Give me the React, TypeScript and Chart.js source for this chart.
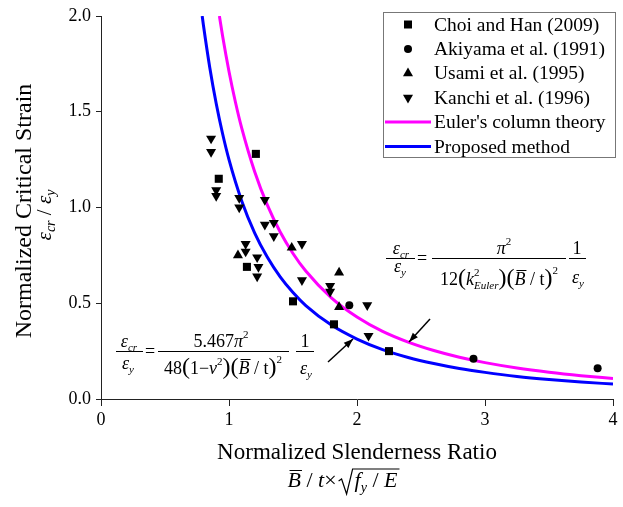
import React, { useEffect, useRef } from 'react';
import { Chart, registerables } from 'chart.js';
Chart.register(...registerables);

// ---- data ----
const choiX = [0.92, 1.21, 1.14, 1.50, 1.82, 2.25];
const choiY = [1.15, 1.28, 0.69, 0.51, 0.39, 0.25];
const akiyamaX = [1.94, 2.91, 3.88];
const akiyamaY = [0.49, 0.21, 0.16];
const usamiX = [1.07, 1.49, 1.86, 1.86];
const usamiY = [0.75, 0.79, 0.66, 0.48];
const kanchiX = [0.86, 0.86, 0.90, 0.90, 1.08, 1.08, 1.28, 1.28, 1.35, 1.35, 1.13, 1.13, 1.22, 1.23, 1.22, 1.57, 1.57, 1.79, 1.79, 2.08, 2.09];
const kanchiY = [1.36, 1.29, 1.09, 1.06, 1.05, 1.00, 1.04, 0.91, 0.92, 0.85, 0.81, 0.77, 0.74, 0.69, 0.64, 0.81, 0.62, 0.59, 0.56, 0.49, 0.33];

const eulerX = [0.925, 0.95, 1.0, 1.05, 1.1, 1.2, 1.3, 1.4, 1.5, 1.6, 1.8, 2.0, 2.2, 2.4, 2.6, 2.8, 3.0, 3.25, 3.5, 3.75, 4.0];
const eulerY = [2.0, 1.895, 1.710, 1.551, 1.413, 1.188, 1.012, 0.872, 0.760, 0.668, 0.528, 0.428, 0.353, 0.297, 0.253, 0.218, 0.190, 0.162, 0.140, 0.122, 0.107];
const proposedX = [0.7906, 0.8, 0.85, 0.9, 0.95, 1.0, 1.1, 1.2, 1.3, 1.4, 1.5, 1.6, 1.8, 2.0, 2.2, 2.4, 2.6, 2.8, 3.0, 3.25, 3.5, 3.75, 4.0];
const proposedY = [2.0, 1.953, 1.730, 1.543, 1.385, 1.250, 1.033, 0.868, 0.740, 0.638, 0.556, 0.488, 0.386, 0.313, 0.258, 0.217, 0.185, 0.159, 0.139, 0.118, 0.102, 0.089, 0.078];

const xTicks = [0, 1, 2, 3, 4];
const yTicks = [0, 0.5, 1.0, 1.5, 2.0];

const legendLabels = ['Choi and Han (2009)', 'Akiyama et al. (1991)', 'Usami et al. (1995)', 'Kanchi et al. (1996)', "Euler's column theory", 'Proposed method'];

const SERIF = '"Liberation Serif", "Times New Roman", serif';
const F = (s: number, it = false) => `${it ? 'italic ' : ''}${s}px ${SERIF}`;

type Part = { t: string; f: string; dy?: number; adv?: boolean; over?: number };

function measureParts(ctx: CanvasRenderingContext2D, parts: Part[]) {
  let w = 0;
  for (const p of parts) {
    ctx.font = p.f;
    if (p.adv !== false) w += ctx.measureText(p.t).width;
  }
  return w;
}

function drawParts(ctx: CanvasRenderingContext2D, parts: Part[], x: number, y: number, align: 'left' | 'center' = 'center') {
  const w = measureParts(ctx, parts);
  let cx = align === 'center' ? x - w / 2 : x;
  ctx.textAlign = 'left';
  ctx.textBaseline = 'alphabetic';
  for (const p of parts) {
    ctx.font = p.f;
    const tw = ctx.measureText(p.t).width;
    ctx.fillText(p.t, cx, y + (p.dy || 0));
    if (p.over) {
      ctx.fillRect(cx + 2, y - p.over, tw - 1, 1);
    }
    if (p.adv !== false) cx += tw;
  }
  return w;
}

function bar(ctx: CanvasRenderingContext2D, x1: number, x2: number, y: number) {
  ctx.fillRect(x1, y, x2 - x1, 1);
}

function arrow(ctx: CanvasRenderingContext2D, x1: number, y1: number, x2: number, y2: number) {
  ctx.beginPath();
  ctx.lineWidth = 1.5;
  ctx.moveTo(x1, y1);
  ctx.lineTo(x2, y2);
  ctx.stroke();
  const a = Math.atan2(y2 - y1, x2 - x1);
  const L = 10, W = 0.35;
  ctx.beginPath();
  ctx.moveTo(x2, y2);
  ctx.lineTo(x2 - L * Math.cos(a - W), y2 - L * Math.sin(a - W));
  ctx.lineTo(x2 - L * Math.cos(a + W), y2 - L * Math.sin(a + W));
  ctx.closePath();
  ctx.fill();
}

function marker(ctx: CanvasRenderingContext2D, kind: string, x: number, y: number) {
  ctx.beginPath();
  if (kind === 'rect') {
    const s = 4;
    ctx.rect(x - s, y - s, 2 * s, 2 * s);
  } else if (kind === 'circle') {
    ctx.arc(x, y, 4, 0, Math.PI * 2);
  } else if (kind === 'up') {
    const r = 5.8;
    ctx.moveTo(x, y - r);
    ctx.lineTo(x + r * 0.866, y + r * 0.5);
    ctx.lineTo(x - r * 0.866, y + r * 0.5);
    ctx.closePath();
  } else {
    const r = 5.8;
    ctx.moveTo(x, y + r);
    ctx.lineTo(x + r * 0.866, y - r * 0.5);
    ctx.lineTo(x - r * 0.866, y - r * 0.5);
    ctx.closePath();
  }
  ctx.fill();
}

const overlayPlugin = {
  id: 'overlay',
  afterDraw(chart: any) {
    const ctx: CanvasRenderingContext2D = chart.ctx;
    ctx.save();
    ctx.fillStyle = '#000';
    ctx.strokeStyle = '#000';

    // y title
    ctx.save();
    ctx.translate(25, 211);
    ctx.rotate(-Math.PI / 2);
    ctx.font = F(24);
    ctx.textAlign = 'center';
    ctx.textBaseline = 'middle';
    ctx.fillText('Normalized Critical Strain', 0, 0);
    ctx.restore();
    ctx.save();
    ctx.translate(51, 215);
    ctx.rotate(-Math.PI / 2);
    drawParts(ctx, [
      { t: 'ε', f: F(21, true) }, { t: 'cr', f: F(14, true), dy: 4 },
      { t: ' / ', f: F(21) },
      { t: 'ε', f: F(21, true) }, { t: 'y', f: F(14, true), dy: 4 },
    ], 0, 0);
    ctx.restore();

    // x title
    ctx.font = F(23);
    ctx.textAlign = 'center';
    ctx.textBaseline = 'middle';
    ctx.fillText('Normalized Slenderness Ratio', 357, 453);
    {
      const g1: Part[] = [{ t: 'B', f: F(22, true), over: 17 }, { t: ' / ', f: F(22) }, { t: 't', f: F(22, true) }, { t: '×', f: F(22) }];
      const g2: Part[] = [{ t: 'f', f: F(22, true) }, { t: 'y', f: F(14, true), dy: 5 }, { t: ' / ', f: F(22) }, { t: 'E', f: F(22, true) }];
      const w1 = measureParts(ctx, g1);
      const w2 = measureParts(ctx, g2);
      const total = w1 + 17 + w2 + 2;
      const base = 487;
      const sx = 343 - total / 2;
      drawParts(ctx, g1, sx, base, 'left');
      const rx = sx + w1 + 2;
      const cx = rx + 16;
      drawParts(ctx, g2, cx, base, 'left');
      ctx.beginPath();
      ctx.lineWidth = 1.2;
      ctx.moveTo(rx, base - 6);
      ctx.lineTo(rx + 3, base - 8);
      ctx.lineTo(rx + 8, base + 7);
      ctx.lineTo(rx + 14, base - 18);
      ctx.lineTo(cx + w2 + 2, base - 18);
      ctx.stroke();
    }

    // Euler formula (upper right)
    const fs = 18;
    drawParts(ctx, [{ t: 'ε', f: F(fs, true) }, { t: 'cr', f: F(11, true), dy: 4 }], 401, 254);
    bar(ctx, 386, 415, 258);
    drawParts(ctx, [{ t: 'ε', f: F(fs, true) }, { t: 'y', f: F(11, true), dy: 4 }], 400, 272);
    drawParts(ctx, [{ t: '=', f: F(fs) }], 422, 264);
    bar(ctx, 432, 566, 258);
    drawParts(ctx, [{ t: 'π', f: F(fs, true) }, { t: '2', f: F(11), dy: -9 }], 504, 254);
    drawParts(ctx, [
      { t: '12', f: F(fs) }, { t: '(', f: F(24) }, { t: 'k', f: F(fs, true) },
      { t: '2', f: F(11), dy: -9, adv: false }, { t: 'Euler', f: F(11, true), dy: 4 },
      { t: ')', f: F(24) }, { t: '(', f: F(24) }, { t: 'B', f: F(fs, true), over: 15 },
      { t: ' / t', f: F(fs) }, { t: ')', f: F(24) }, { t: '2', f: F(11), dy: -11 },
    ], 499, 285);
    drawParts(ctx, [{ t: '1', f: F(fs) }], 577, 254);
    bar(ctx, 569, 586, 258);
    drawParts(ctx, [{ t: 'ε', f: F(fs, true) }, { t: 'y', f: F(11, true), dy: 4 }], 578, 283);
    arrow(ctx, 430, 319, 409, 342);

    // Proposed formula (lower left)
    drawParts(ctx, [{ t: 'ε', f: F(fs, true) }, { t: 'cr', f: F(11, true), dy: 4 }], 129, 347);
    bar(ctx, 116, 143, 351);
    drawParts(ctx, [{ t: 'ε', f: F(fs, true) }, { t: 'y', f: F(11, true), dy: 4 }], 128, 369);
    drawParts(ctx, [{ t: '=', f: F(fs) }], 150, 357);
    bar(ctx, 158, 289, 351);
    drawParts(ctx, [{ t: '5.467', f: F(fs) }, { t: 'π', f: F(fs, true) }, { t: '2', f: F(11), dy: -9 }], 221, 347);
    drawParts(ctx, [
      { t: '48', f: F(fs) }, { t: '(', f: F(24) }, { t: '1', f: F(fs) }, { t: '−', f: F(fs) },
      { t: 'ν', f: F(fs, true) }, { t: '2', f: F(11), dy: -9 }, { t: ')', f: F(24) },
      { t: '(', f: F(24) }, { t: 'B', f: F(fs, true), over: 15 }, { t: ' / t', f: F(fs) },
      { t: ')', f: F(24) }, { t: '2', f: F(11), dy: -11 },
    ], 223, 374);
    drawParts(ctx, [{ t: '1', f: F(fs) }], 305, 347);
    bar(ctx, 296, 314, 351);
    drawParts(ctx, [{ t: 'ε', f: F(fs, true) }, { t: 'y', f: F(11, true), dy: 4 }], 306, 374);
    arrow(ctx, 328, 362, 353, 339);

    // legend
    ctx.fillStyle = '#fff';
    ctx.fillRect(384, 13, 231, 144);
    ctx.strokeStyle = '#777';
    ctx.lineWidth = 1;
    ctx.strokeRect(383.5, 12.5, 232, 145);
    const kinds = ['rect', 'circle', 'up', 'down', 'line:#FF00FF', 'line:#0000FF'];
    ctx.font = F(19.5);
    ctx.textAlign = 'left';
    ctx.textBaseline = 'middle';
    for (let i = 0; i < legendLabels.length; i++) {
      const y = 24.5 + i * 24.4;
      const k = kinds[i];
      if (k.startsWith('line:')) {
        ctx.strokeStyle = k.slice(5);
        ctx.lineWidth = 3;
        ctx.beginPath();
        ctx.moveTo(385, y);
        ctx.lineTo(431, y);
        ctx.stroke();
      } else {
        ctx.fillStyle = '#000';
        marker(ctx, k, 408, y);
      }
      ctx.fillStyle = '#000';
      ctx.fillText(legendLabels[i], 434, y + 1);
    }
    ctx.restore();
  },
};

const pts = (xs: number[], ys: number[]) => xs.map((x, i) => ({ x, y: ys[i] }));

export default function App() {
  const ref = useRef<HTMLCanvasElement | null>(null);
  useEffect(() => {
    document.body.style.margin = '0';
    const canvas = ref.current!;
    const tickFont = { family: SERIF, size: 18 };
    const chart = new Chart(canvas, {
      type: 'scatter',
      data: {
        datasets: [
          { label: legendLabels[0], data: pts(choiX, choiY), pointStyle: 'rect', pointRadius: 5.7, backgroundColor: '#000', borderColor: '#000', borderWidth: 0, order: 0 },
          { label: legendLabels[1], data: pts(akiyamaX, akiyamaY), pointStyle: 'circle', pointRadius: 4, backgroundColor: '#000', borderColor: '#000', borderWidth: 0, order: 0 },
          { label: legendLabels[2], data: pts(usamiX, usamiY), pointStyle: 'triangle', pointRadius: 5.8, backgroundColor: '#000', borderColor: '#000', borderWidth: 0, order: 0 },
          { label: legendLabels[3], data: pts(kanchiX, kanchiY), pointStyle: 'triangle', rotation: 180, pointRadius: 5.8, backgroundColor: '#000', borderColor: '#000', borderWidth: 0, order: 0 },
          { label: legendLabels[4], data: pts(eulerX, eulerY), showLine: true, fill: false, borderColor: '#FF00FF', borderWidth: 3, pointRadius: 0, cubicInterpolationMode: 'monotone', order: 1 },
          { label: legendLabels[5], data: pts(proposedX, proposedY), showLine: true, fill: false, borderColor: '#0000FF', borderWidth: 3, pointRadius: 0, cubicInterpolationMode: 'monotone', order: 1 },
        ] as any,
      },
      options: {
        responsive: false,
        animation: false,
        devicePixelRatio: 1,
        layout: { padding: { left: 0, top: 16, right: 10, bottom: 0 } },
        plugins: { legend: { display: false }, tooltip: { enabled: false } },
        scales: {
          x: {
            type: 'linear', min: 0, max: 4,
            afterBuildTicks: (s: any) => { s.ticks = xTicks.map((v) => ({ value: v })); },
            ticks: { color: '#000', font: tickFont, padding: 3, callback: (v: any) => String(v) },
            grid: { display: true, drawOnChartArea: false, drawTicks: true, tickLength: 7, color: '#222' },
            border: { display: true, color: '#222', width: 1 },
            afterFit: (s: any) => { s.height = 108; },
          },
          y: {
            type: 'linear', min: 0, max: 2,
            afterBuildTicks: (s: any) => { s.ticks = yTicks.map((v) => ({ value: v })); },
            ticks: { color: '#000', font: tickFont, padding: 5, callback: (v: any) => Number(v).toFixed(1) },
            grid: { display: true, drawOnChartArea: false, drawTicks: true, tickLength: 5, color: '#222' },
            border: { display: true, color: '#222', width: 1 },
            afterFit: (s: any) => { s.width = 101; },
          },
        },
      } as any,
      plugins: [overlayPlugin],
    });
    return () => chart.destroy();
  }, []);
  return (
    <div style={{ width: 623, height: 507 }}>
      <canvas ref={ref} width={623} height={507} style={{ display: 'block' }} />
    </div>
  );
}
